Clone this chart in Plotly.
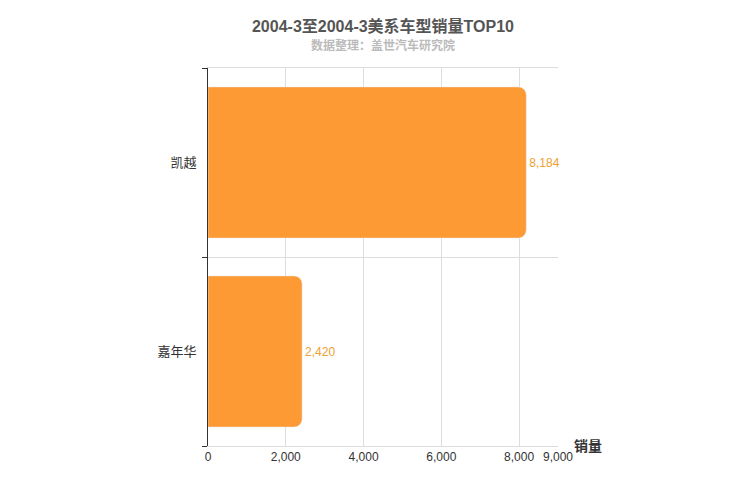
import plotly.graph_objects as go

models = ["嘉年华", "凯越"]
sales = [2420, 8184]
x_ticks = [0, 2000, 4000, 6000, 8000, 9000]

fig = go.Figure(go.Bar(
    y=models, x=sales, orientation="h",
    marker=dict(color="#fe9a34", cornerradius=8),
    width=0.8,
    text=[f"{v:,}" for v in sales], textposition="outside",
    textfont=dict(color="#f0a030", size=12, family="Arial"),
    cliponaxis=False,
))
fig.update_layout(
    width=750, height=500, plot_bgcolor="white", paper_bgcolor="white",
    margin=dict(l=200, r=200, t=60, b=62),
    showlegend=False,
    font=dict(family="Arial, Noto Sans CJK SC", color="#333"),
    title=dict(text="<b>2004-3至2004-3美系车型销量TOP10</b>", x=0.5, y=0.975,
               xanchor="center", font=dict(size=16, color="#555")),
)
fig.add_annotation(text="<b>数据整理：盖世汽车研究院</b>", x=0.5, y=1.035, xref="paper",
                   yref="paper", showarrow=False, yanchor="bottom",
                   font=dict(size=12, color="#bbb"))
fig.add_annotation(text="<b>销量</b>", x=1.04, y=0, xref="paper", yref="paper",
                   showarrow=False, xanchor="left", yanchor="middle",
                   font=dict(size=14, color="#333"))
fig.update_xaxes(range=[0, 9000], tickvals=x_ticks, tickformat=",",
                 showgrid=True, gridcolor="#ddd", zeroline=False,
                 showline=True, linecolor="#ddd", mirror=True,
                 tickfont=dict(size=12, color="#333"))
fig.update_yaxes(showline=True, linecolor="#333", linewidth=1,
                 ticks="outside", tickson="boundaries", ticklen=5, tickcolor="#333",
                 showgrid=True, gridcolor="#ddd",
                 tickfont=dict(size=13, color="#333"))
fig.update_yaxes(ticklabelstandoff=8)
fig.write_html("out.html")
